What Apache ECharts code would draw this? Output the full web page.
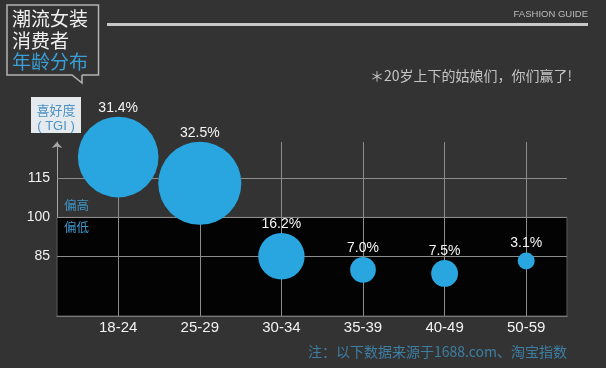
<!DOCTYPE html>
<html>
<head>
<meta charset="utf-8">
<style>
html,body{margin:0;padding:0;background:#333333;}
#c{width:606px;height:368px;}
</style>
<script src="https://cdn.jsdelivr.net/npm/echarts@6/dist/echarts.min.js"></script>
</head>
<body>
<div id="c"></div>
<script>
// ---- data ----
var categories = ['18-24', '25-29', '30-34', '35-39', '40-49', '50-59'];
var tgiValues = [123.2, 113.1, 85, 79.8, 78.4, 83.2];
var shareValues = [31.4, 32.5, 16.2, 7.0, 7.5, 3.1];
var yTickLabels = [85, 100, 115];
var splitValue = 100;

var FONT = '"Liberation Sans","Noto Sans CJK SC",sans-serif';
var CJK = '"Noto Sans CJK SC","Liberation Sans",sans-serif';

var bubbleData = categories.map(function (c, i) {
  return [i, tgiValues[i], shareValues[i]];
});
var xIdx = categories.map(function (c, i) { return i; });

var chart = echarts.init(document.getElementById('c'), null, {renderer: 'canvas'});
chart.setOption({
  backgroundColor: '#333333',
  animation: false,
  grid: {left: 57, right: 39, top: 142, bottom: 52},
  xAxis: {
    type: 'value', min: -0.75, max: 5.5,
    splitLine: {show: false},
    axisTick: {show: false},
    axisLine: {show: true, onZero: false, lineStyle: {color: '#9a9a9a', width: 1}},
    axisLabel: {
      customValues: xIdx,
      formatter: function (v) { return categories[Math.round(v)] || ''; },
      color: '#f2f2f2', fontSize: 15, fontFamily: FONT, margin: 4
    }
  },
  yAxis: {
    type: 'value', min: 62, max: 129,
    splitLine: {show: false},
    axisTick: {show: false},
    axisLine: {show: true, onZero: false, symbol: ['none', 'arrow'], symbolSize: [8, 6],
      lineStyle: {color: '#a8a8a8', width: 1}},
    axisLabel: {
      customValues: yTickLabels,
      color: '#f2f2f2', fontSize: 14, fontFamily: FONT, margin: 7
    }
  },
  series: [
    {
      type: 'scatter', data: [], z: 1, silent: true,
      markArea: {
        z: 1, silent: true,
        itemStyle: {color: '#030303', borderColor: '#5a5a5a', borderWidth: 1},
        data: [[{yAxis: 62}, {yAxis: splitValue}]]
      }
    },
    {
      type: 'scatter', data: [], z: 2, silent: true,
      markLine: {
        z: 2, silent: true, symbol: 'none', label: {show: false},
        lineStyle: {color: '#8c8c8c', width: 1, type: 'solid'},
        data: yTickLabels.map(function (v) { return {yAxis: v}; })
          .concat(xIdx.map(function (v) { return {xAxis: v}; }))
      }
    },
    {
      type: 'scatter', z: 5,
      data: bubbleData,
      symbolSize: function (val) { return 10 + 2.25 * val[2]; },
      itemStyle: {color: '#29a6df', opacity: 1},
      label: {
        show: true, position: 'top', distance: 2,
        formatter: function (p) { return p.value[2].toFixed(1) + '%'; },
        color: '#f5f5f5', fontSize: 14, fontFamily: FONT
      }
    }
  ],
  graphic: [
    {type: 'polyline', shape: {points: [[82,75],[98.5,75],[98.5,5],[7,5],[7,75],[72,75],[82,83],[82,75]]},
      style: {stroke: '#b4b4b4', lineWidth: 1.5, fill: null}},
    {type: 'text', left: 12, top: 9, style: {text: '潮流女装', fill: '#f0f0f0', font: '19px ' + CJK}},
    {type: 'text', left: 12, top: 31, style: {text: '消费者', fill: '#f0f0f0', font: '19px ' + CJK}},
    {type: 'text', left: 12, top: 52, style: {text: '年龄分布', fill: '#3a9fd6', font: '19px ' + CJK}},
    {type: 'rect', shape: {x: 107, y: 23, width: 481, height: 3}, style: {fill: '#c8c8c8'}},
    {type: 'text', right: 18, top: 10, style: {text: 'FASHION GUIDE', fill: '#bdbdbd', font: '9.5px ' + FONT}},
    {type: 'text', right: 34, top: 69, style: {text: '＊20岁上下的姑娘们，你们赢了!', fill: '#c4c4c4', font: '14px ' + CJK}},
    {type: 'rect', shape: {x: 31, y: 97, width: 50, height: 36}, style: {fill: '#e4eaee'}},
    {type: 'text', x: 56, y: 110.5, style: {text: '喜好度', fill: '#4d93c4', font: '13px ' + CJK, align: 'center', verticalAlign: 'middle'}},
    {type: 'text', x: 56, y: 126.5, style: {text: '( TGI )', fill: '#4d93c4', font: '13px ' + FONT, align: 'center', verticalAlign: 'middle'}},
    {type: 'text', x: 64, y: 205, z: 10, style: {text: '偏高', fill: '#4096c8', font: '12.5px ' + CJK, verticalAlign: 'middle'}},
    {type: 'text', x: 64, y: 227, z: 10, style: {text: '偏低', fill: '#4096c8', font: '12.5px ' + CJK, verticalAlign: 'middle'}},
    {type: 'text', right: 39, top: 345, style: {text: '注：以下数据来源于1688.com、淘宝指数', fill: '#3d7fa3', font: '14px ' + CJK}}
  ]
});
</script>
</body>
</html>
